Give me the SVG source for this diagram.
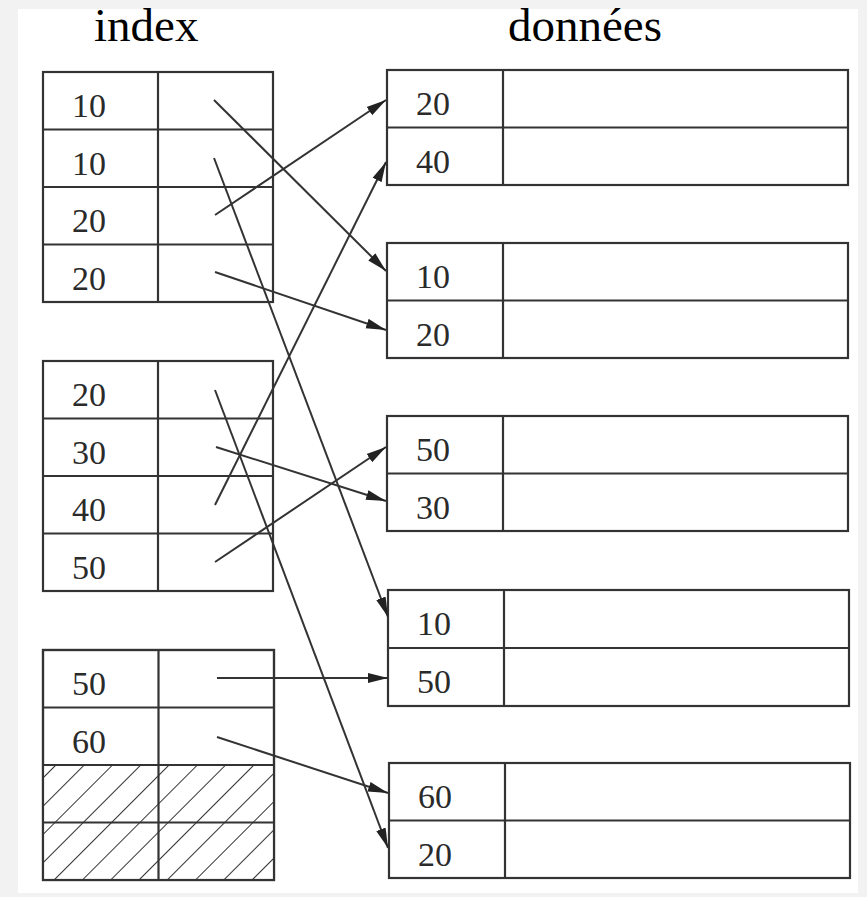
<svg xmlns="http://www.w3.org/2000/svg" width="867" height="897" viewBox="0 0 867 897">
<style>
.cell{fill:#fff;stroke:#333;stroke-width:2.2}
.num{font-family:"Liberation Serif","Times New Roman",serif;font-size:34px;fill:#2a2a2a}
.title{font-family:"Liberation Serif","Times New Roman",serif;font-size:47px;fill:#000}
.conn{stroke:#333;stroke-width:2;fill:none;marker-end:url(#ah)}
</style>
<defs>
<marker id="ah" markerUnits="userSpaceOnUse" markerWidth="21" markerHeight="11" refX="20" refY="5.5" orient="auto">
<path d="M0,0.5 L20,5.5 L0,10.5 Z" fill="#222"/>
</marker>
<pattern id="hatch" patternUnits="userSpaceOnUse" width="20" height="20" patternTransform="rotate(45)">
<rect width="20" height="20" fill="#fff"/>
<line x1="0" y1="0" x2="0" y2="20" stroke="#333" stroke-width="2"/>
</pattern>
</defs>
<rect width="867" height="897" fill="#f2f2f2"/>
<rect x="18" y="9" width="840" height="884" fill="#fff"/>
<text class="title" x="94" y="41">index</text>
<text class="title" x="508" y="41">données</text>

<g id="index1">
<rect class="cell" x="43" y="72" width="230" height="230"/>
<line class="cell" x1="158" y1="72" x2="158" y2="302"/>
<line class="cell" x1="43" y1="129.5" x2="273" y2="129.5"/>
<line class="cell" x1="43" y1="187" x2="273" y2="187"/>
<line class="cell" x1="43" y1="244.5" x2="273" y2="244.5"/>
<text class="num" x="72" y="117">10</text>
<text class="num" x="72" y="174.5">10</text>
<text class="num" x="72" y="232">20</text>
<text class="num" x="72" y="289.5">20</text>
</g>
<g id="index2">
<rect class="cell" x="43" y="361" width="230" height="230"/>
<line class="cell" x1="158" y1="361" x2="158" y2="591"/>
<line class="cell" x1="43" y1="418.5" x2="273" y2="418.5"/>
<line class="cell" x1="43" y1="476" x2="273" y2="476"/>
<line class="cell" x1="43" y1="533.5" x2="273" y2="533.5"/>
<text class="num" x="72" y="406">20</text>
<text class="num" x="72" y="463.5">30</text>
<text class="num" x="72" y="521">40</text>
<text class="num" x="72" y="578.5">50</text>
</g>
<g id="index3">
<rect class="cell" x="43" y="650" width="231" height="230"/>
<rect x="44" y="766" width="229" height="113" fill="url(#hatch)"/>
<rect x="43" y="650" width="231" height="230" fill="none" stroke="#333" stroke-width="2.2"/>
<line class="cell" x1="158.5" y1="650" x2="158.5" y2="880"/>
<line class="cell" x1="43" y1="707.5" x2="274" y2="707.5"/>
<line class="cell" x1="43" y1="765" x2="274" y2="765"/>
<line class="cell" x1="43" y1="822.5" x2="274" y2="822.5"/>
<text class="num" x="72" y="695">50</text>
<text class="num" x="72" y="752.5">60</text>
</g>

<g id="data1">
<rect class="cell" x="387" y="70" width="461" height="115"/>
<line class="cell" x1="503" y1="70" x2="503" y2="185"/>
<line class="cell" x1="387" y1="127.5" x2="848" y2="127.5"/>
<text class="num" x="416" y="115">20</text>
<text class="num" x="416" y="172.5">40</text>
</g>
<g id="data2">
<rect class="cell" x="387" y="243" width="461" height="115"/>
<line class="cell" x1="503" y1="243" x2="503" y2="358"/>
<line class="cell" x1="387" y1="300.5" x2="848" y2="300.5"/>
<text class="num" x="416" y="288">10</text>
<text class="num" x="416" y="345.5">20</text>
</g>
<g id="data3">
<rect class="cell" x="387" y="416" width="461" height="115"/>
<line class="cell" x1="503" y1="416" x2="503" y2="531"/>
<line class="cell" x1="387" y1="473.5" x2="848" y2="473.5"/>
<text class="num" x="416" y="461">50</text>
<text class="num" x="416" y="518.5">30</text>
</g>
<g id="data4">
<rect class="cell" x="388" y="590" width="461" height="116"/>
<line class="cell" x1="504" y1="590" x2="504" y2="706"/>
<line class="cell" x1="388" y1="648" x2="849" y2="648"/>
<text class="num" x="417" y="635">10</text>
<text class="num" x="417" y="693">50</text>
</g>
<g id="data5">
<rect class="cell" x="389" y="763" width="461" height="115"/>
<line class="cell" x1="505" y1="763" x2="505" y2="878"/>
<line class="cell" x1="389" y1="820.5" x2="850" y2="820.5"/>
<text class="num" x="418" y="808">60</text>
<text class="num" x="418" y="865.5">20</text>
</g>

<g id="connectors">
<line class="conn" x1="214" y1="100" x2="386" y2="271"/>
<line class="conn" x1="214" y1="158" x2="388" y2="617"/>
<line class="conn" x1="215" y1="215" x2="386" y2="100"/>
<line class="conn" x1="215" y1="272" x2="386" y2="330"/>
<line class="conn" x1="215" y1="390" x2="388" y2="848"/>
<line class="conn" x1="216" y1="447" x2="386" y2="501"/>
<line class="conn" x1="215" y1="505" x2="386" y2="162"/>
<line class="conn" x1="215" y1="562" x2="386" y2="447"/>
<line class="conn" x1="217" y1="678" x2="388" y2="678"/>
<line class="conn" x1="217" y1="737" x2="388" y2="793"/>
</g>
</svg>
